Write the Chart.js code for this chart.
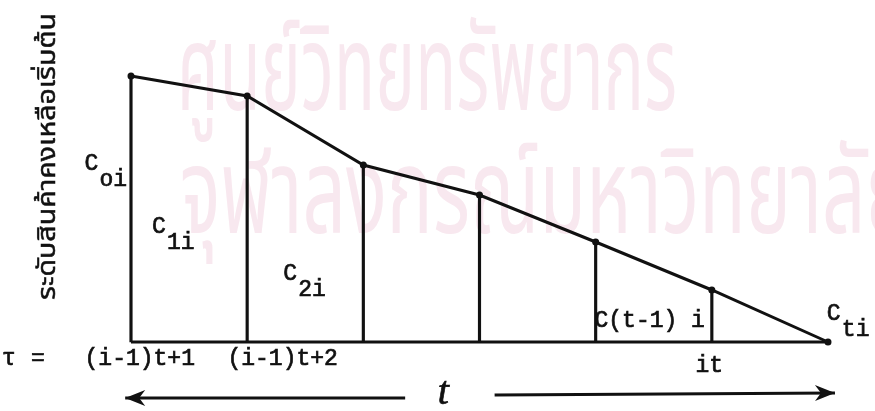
<!DOCTYPE html>
<html>
<head>
<meta charset="utf-8">
<script src="https://cdn.jsdelivr.net/npm/chart.js@4.4.1/dist/chart.umd.min.js"></script>
<style>
  html, body { margin: 0; padding: 0; background: #fff; }
  #wrap { width: 875px; height: 411px; }
</style>
</head>
<body>
<div id="wrap"><canvas id="inventoryChart" width="875" height="411"></canvas></div>
<script>
// periods inside cycle i (tau = (i-1)t+1 ... it)
const periods = [0, 1, 2, 3, 4, 5, 6];
// remaining inventory level at start of each period (C_oi ... C_ti)
const inventoryLevels = [266, 246, 177, 147, 100, 52, 0];
// verticals drawn at every period except the last
const verticalPeriods = [0, 1, 2, 3, 4, 5];

const axisTitle = 'ระดับสินค้าคงเหลือเริ่มต้น';
const watermarkLines = ['ศูนย์วิทยทรัพยากร', 'จุฬาลงกรณ์มหาวิทยาลัย'];

// C labels: main text, subscript, anchor (period, level)
const cLabels = [
  { text: 'C', sub: 'oi', x: -0.40, y: 172 },
  { text: 'C', sub: '1i', x: 0.18, y: 109 },
  { text: 'C', sub: '2i', x: 1.31, y: 62 },
  { text: 'C(t-1) i', sub: '', x: 3.99, y: 15 },
  { text: 'C', sub: 'ti', x: 5.99, y: 22 }
];
// labels under the base line
const tickLabels = [
  { text: 'τ', x: -1.11, y: -23 },
  { text: '=', x: -0.86, y: -23 },
  { text: '(i-1)t+1', x: -0.40, y: -23 },
  { text: '(i-1)t+2', x: 0.83, y: -23 },
  { text: 'it', x: 4.86, y: -30 }
];

const lineData = periods.map((p, i) => ({ x: p, y: inventoryLevels[i] }));
const verticalData = verticalPeriods.map(p => ({ x: p, y: inventoryLevels[p] }));
const baseData = [{ x: periods[0], y: 0 }, { x: periods[periods.length - 1], y: 0 }];

const INK = '#111';
const MONO = '"Liberation Mono", "DejaVu Sans Mono", monospace';
const THAI = '"Noto Sans Thai", "Noto Sans", sans-serif';

// pink watermark behind everything
const watermarkPlugin = {
  id: 'watermark',
  beforeDraw(chart) {
    const ctx = chart.ctx;
    ctx.save();
    ctx.fillStyle = '#f8e8ef';
    ctx.font = '120px ' + THAI;
    ctx.textBaseline = 'alphabetic';
    const sx = 500 / ctx.measureText(watermarkLines[0]).width;
    ctx.save();
    ctx.translate(177, 110);
    ctx.scale(sx, 1);
    ctx.fillText(watermarkLines[0], 0, 0);
    ctx.restore();
    ctx.save();
    ctx.translate(180, 233);
    ctx.scale(sx * 1.13, 1);
    ctx.fillText(watermarkLines[1], 0, 0);
    ctx.restore();
    ctx.restore();
  }
};

// text labels, arrows and vertical axis title
const annotatePlugin = {
  id: 'annotate',
  afterDraw(chart) {
    const ctx = chart.ctx;
    const xs = chart.scales.x, ys = chart.scales.y;
    const px = v => xs.getPixelForValue(v);
    const py = v => ys.getPixelForValue(v);
    ctx.save();
    ctx.fillStyle = INK;
    ctx.strokeStyle = INK;
    ctx.lineWidth = 0.7;
    ctx.textBaseline = 'alphabetic';
    ctx.font = '23px ' + MONO;
    function text(t, x, y) {
      ctx.fillText(t, x, y);
      ctx.strokeText(t, x, y);
    }
    cLabels.forEach(l => {
      text(l.text, px(l.x), py(l.y));
      if (l.sub) text(l.sub, px(l.x) + 15, py(l.y) + 16);
    });
    tickLabels.forEach(l => text(l.text, px(l.x), py(l.y)));

    // script t between the arrows
    ctx.font = 'italic 40px "Liberation Serif", serif';
    text('t', px(2.64), py(-62));

    // arrows
    ctx.lineWidth = 3;
    function arrow(x1, y1, x2, y2) {
      const a = Math.atan2(y2 - y1, x2 - x1);
      ctx.beginPath();
      ctx.moveTo(x1, y1);
      ctx.lineTo(x2, y2);
      ctx.stroke();
      ctx.beginPath();
      ctx.moveTo(x2, y2);
      ctx.lineTo(x2 - 20 * Math.cos(a) + 8 * Math.sin(a), y2 - 20 * Math.sin(a) - 8 * Math.cos(a));
      ctx.lineTo(x2 - 14 * Math.cos(a), y2 - 14 * Math.sin(a));
      ctx.lineTo(x2 - 20 * Math.cos(a) - 8 * Math.sin(a), y2 - 20 * Math.sin(a) + 8 * Math.cos(a));
      ctx.closePath();
      ctx.fill();
    }
    arrow(px(2.36), py(-56), px(-0.05), py(-56));
    arrow(px(3.13), py(-53), px(6.06), py(-51));

    // rotated Thai axis title, stretched to its printed length
    ctx.save();
    ctx.translate(55, 300);
    ctx.rotate(-Math.PI / 2);
    ctx.font = '25px ' + THAI;
    const tw = ctx.measureText(axisTitle).width;
    ctx.scale(287 / tw, 1);
    ctx.lineWidth = 0.5;
    text(axisTitle, 0, 0);
    ctx.restore();
    ctx.restore();
  }
};

const ctx = document.getElementById('inventoryChart').getContext('2d');
const inventoryChart = new Chart(ctx, {
  data: {
    datasets: [
      {
        type: 'line',
        data: lineData,
        borderColor: INK,
        backgroundColor: INK,
        borderWidth: 3,
        pointRadius: 2,
        tension: 0,
        fill: false,
        clip: false
      },
      {
        type: 'bar',
        data: verticalData,
        backgroundColor: INK,
        barThickness: 2.5,
        clip: false
      },
      {
        type: 'line',
        data: baseData,
        borderColor: INK,
        borderWidth: 3,
        pointRadius: 0,
        fill: false,
        clip: false
      }
    ]
  },
  options: {
    responsive: false,
    animation: false,
    devicePixelRatio: 1,
    layout: { padding: { left: 131, right: 47, top: 62, bottom: 69 } },
    scales: {
      x: { type: 'linear', min: 0, max: 6, offset: false, display: false },
      y: { type: 'linear', min: 0, max: 280, display: false }
    },
    plugins: {
      legend: { display: false },
      tooltip: { enabled: false }
    }
  },
  plugins: [watermarkPlugin, annotatePlugin]
});
</script>
</body>
</html>
